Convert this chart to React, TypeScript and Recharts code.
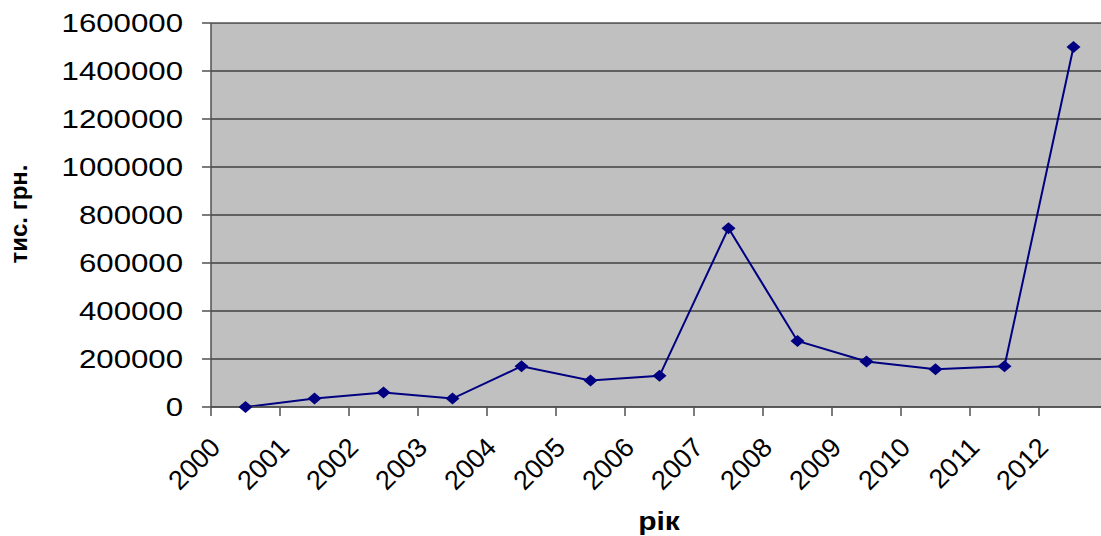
import { LineChart, Line, XAxis, YAxis, CartesianGrid } from "recharts";

const years = ["2000", "2001", "2002", "2003", "2004", "2005", "2006", "2007", "2008", "2009", "2010", "2011", "2012"];
const values = [0, 35000, 60000, 35000, 170000, 110000, 130000, 745000, 275000, 190000, 157000, 170000, 1500000];
const yTicks = [0, 200000, 400000, 600000, 800000, 1000000, 1200000, 1400000, 1600000];

// points sit in the middle of each year's slot, labels at the slot's left edge
const data = years.map((y, i) => ({ year: y, x: i + 0.5, value: values[i] }));
const xTicks = years.map((_, i) => i);

const FONT = "'Liberation Sans', Arial, sans-serif";

const YTick = ({ x, y, payload }: any) => (
  <g transform={`translate(${x - 17},${y}) scale(1.2,1)`}>
    <text x={0} y={0} dy="0.35em" textAnchor="end" fontFamily={FONT} fontSize={26} fill="#000">
      {payload.value}
    </text>
  </g>
);

const XTick = ({ x, payload }: any) => (
  <g transform={`translate(${x + 11},449) rotate(-45)`}>
    <text x={0} y={0} textAnchor="end" fontFamily={FONT} fontSize={27} fill="#000">
      {years[payload.value]}
    </text>
  </g>
);

const Diamond = ({ cx, cy, index }: any) => (
  <polygon
    key={index}
    points={`${cx},${cy - 6} ${cx + 7},${cy} ${cx},${cy + 6} ${cx - 7},${cy}`}
    fill="#000080"
  />
);

export default function App() {
  return (
    <div style={{ position: "absolute", left: 0, top: 0, width: 1101, height: 536, overflow: "hidden", background: "#fff" }}>
      <LineChart width={1130} height={536} data={data} margin={{ top: 23, right: 22, left: 0, bottom: 0 }}>
        <CartesianGrid horizontal vertical={false} stroke="#000" fill="#C0C0C0" />
        <XAxis
          type="number"
          dataKey="x"
          domain={[0, 13]}
          ticks={xTicks}
          interval={0}
          height={129}
          tickSize={9}
          stroke="#505050"
          strokeWidth={1.5}
          tick={<XTick />}
          label={{
            content: () => (
              <g transform="translate(659,530) scale(1.2,1)">
                <text textAnchor="middle" fontFamily={FONT} fontWeight="bold" fontSize={25} fill="#000">рік</text>
              </g>
            ),
          }}
        />
        <YAxis
          type="number"
          domain={[0, 1600000]}
          ticks={yTicks}
          interval={0}
          width={211}
          tickSize={9}
          stroke="#505050"
          strokeWidth={1.5}
          tick={<YTick />}
          label={{
            content: () => (
              <text
                transform="translate(27,214) rotate(-90)"
                textAnchor="middle"
                fontFamily={FONT}
                fontWeight="bold"
                fontSize={24}
                fill="#000"
              >
                тис. грн.
              </text>
            ),
          }}
        />
        <Line
          type="linear"
          dataKey="value"
          stroke="#000080"
          strokeWidth={2}
          dot={<Diamond />}
          activeDot={false}
          isAnimationActive={false}
        />
      </LineChart>
    </div>
  );
}
